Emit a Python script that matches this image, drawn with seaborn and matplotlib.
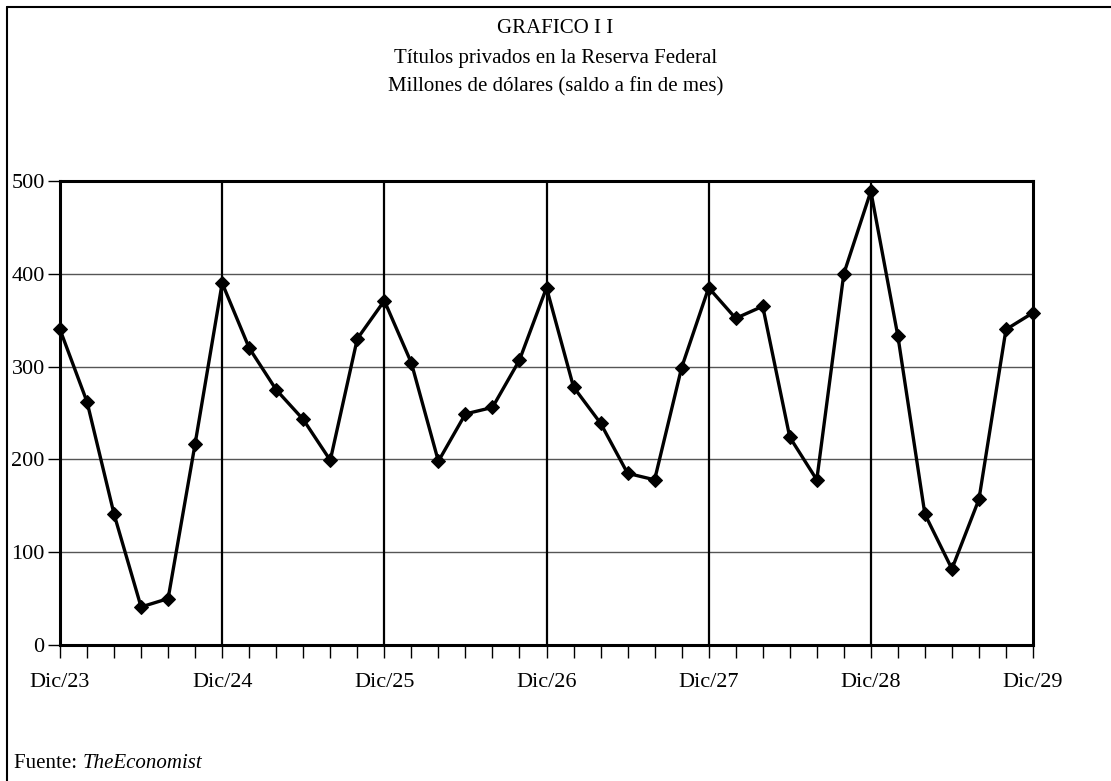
import numpy as np
import pandas as pd
import seaborn as sns
import matplotlib.pyplot as plt
from matplotlib.lines import Line2D

# bimonthly balances, Dic/23 .. Dic/29
values = [340, 262, 141, 41, 50, 217,
          390, 320, 275, 243, 199, 330,
          371, 304, 198, 249, 256, 307,
          385, 278, 239, 185, 178, 299,
          385, 352, 365, 224, 178, 400,
          489, 333, 141, 82, 157, 340,
          358]
year_labels = ["Dic/23", "Dic/24", "Dic/25", "Dic/26", "Dic/27", "Dic/28", "Dic/29"]
y_ticks = [0, 100, 200, 300, 400, 500]

df = pd.DataFrame({"t": np.arange(len(values)), "v": values})

sns.set_theme(style="white", rc={"text.color": "black", "xtick.color": "black",
                                 "ytick.color": "black", "axes.labelcolor": "black"})
plt.rcParams["font.family"] = ["Liberation Serif", "DejaVu Serif"]

fig = plt.figure(figsize=(11.11, 7.81), dpi=100)
ax = fig.add_axes([60 / 1111, 1 - 645 / 781, 973 / 1111, 464 / 781])

# horizontal gridlines
for yv in y_ticks[1:-1]:
    ax.axhline(yv, color="#555555", lw=1.0, zorder=1)
# year separators
for i in range(1, len(year_labels) - 1):
    ax.axvline(i * 6, color="black", lw=1.6, zorder=1)

sns.lineplot(data=df, x="t", y="v", ax=ax, color="black", lw=2.4,
             marker="D", markersize=7.5, markeredgecolor="black", zorder=3,
             clip_on=False)

ax.set_xlim(0, len(values) - 1)
ax.set_ylim(0, 500)
ax.set_xlabel("")
ax.set_ylabel("")
ax.set_xticks(np.arange(0, len(values), 6))
ax.set_xticklabels(year_labels)
ax.set_xticks(np.arange(len(values)), minor=True)
ax.set_yticks(y_ticks)
ax.tick_params(axis="x", which="both", direction="out", length=9, width=1,
               color="black", bottom=True, labelsize=16, pad=11)
ax.tick_params(axis="y", direction="out", length=9, width=1, color="black",
               left=True, labelsize=16, pad=2)
for s in ax.spines.values():
    s.set_color("black")
    s.set_linewidth(2.2)

fig.text(0.5, 1 - 33 / 781, "GRAFICO I I", ha="center", va="baseline", fontsize=15)
fig.text(0.5, 1 - 63 / 781, "Títulos privados en la Reserva Federal", ha="center", va="baseline", fontsize=15)
fig.text(0.5, 1 - 91 / 781, "Millones de dólares (saldo a fin de mes)", ha="center", va="baseline", fontsize=15)
fig.text(14 / 1111, 1 - 768 / 781, "Fuente: ", ha="left", va="baseline", fontsize=15)
fig.text(83 / 1111, 1 - 768 / 781, "TheEconomist", ha="left", va="baseline", fontsize=15, style="italic")

# outer frame (top and left edges)
fig.add_artist(Line2D([7 / 1111, 1], [1 - 7 / 781, 1 - 7 / 781], color="black", lw=1.5))
fig.add_artist(Line2D([7 / 1111, 7 / 1111], [0, 1 - 7 / 781], color="black", lw=1.5))

fig.savefig("out.png", dpi=100)
